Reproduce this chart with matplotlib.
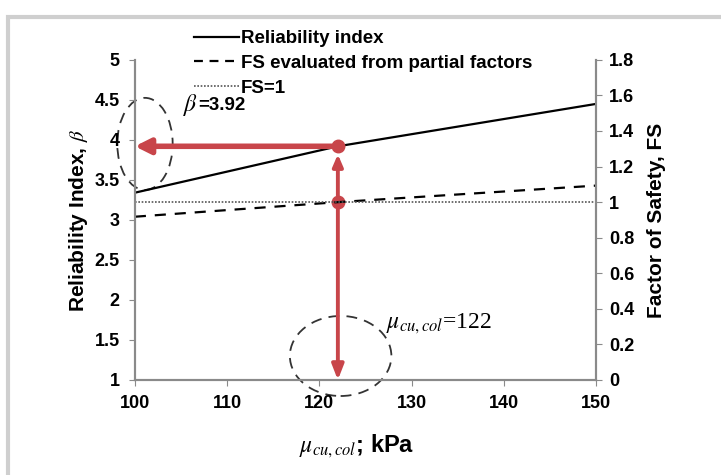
import matplotlib.pyplot as plt
from matplotlib.patches import Ellipse, Rectangle
from matplotlib.lines import Line2D

plt.rcParams['font.family'] = ['Liberation Sans', 'DejaVu Sans']
plt.rcParams['mathtext.fontset'] = 'stix'

# mean undrained strength of the column (kPa)
mu_cu = [100, 122, 150]
beta = [3.34, 3.92, 4.45]          # reliability index
fs_partial = [0.918, 1.0, 1.093]   # FS evaluated from partial factors
fs_limit = 1.0

mu_design = 122
beta_design = 3.92

red = '#c8454a'
grey = '#8a8a8a'

fig = plt.figure(figsize=(7.21, 4.75), dpi=100)
fig.patches.append(Rectangle((0.011, -0.01), 1.0, 0.975, transform=fig.transFigure,
                             fill=False, edgecolor='#cfcfcf', linewidth=3))

ax = fig.add_axes([0.187, 0.2, 0.64, 0.674])
ax2 = ax.twinx()

ax.plot(mu_cu, beta, color='black', lw=1.6)
ax2.plot(mu_cu, fs_partial, color='black', lw=1.6, dashes=(5, 4))
ax2.axhline(fs_limit, color='#555555', lw=1.2, ls=(0, (1, 1)))

ax.set_xlim(100, 150)
ax.set_ylim(1, 5)
ax2.set_ylim(0, 1.8)
ax.set_xticks(range(100, 151, 10))
ax.set_yticks([1, 1.5, 2, 2.5, 3, 3.5, 4, 4.5, 5])
ax.set_yticklabels(['1', '1.5', '2', '2.5', '3', '3.5', '4', '4.5', '5'])
fs_ticks = [0, 0.2, 0.4, 0.6, 0.8, 1, 1.2, 1.4, 1.6, 1.8]
ax2.set_yticks(fs_ticks)
ax2.set_yticklabels(['0', '0.2', '0.4', '0.6', '0.8', '1', '1.2', '1.4', '1.6', '1.8'])

for a in (ax, ax2):
    a.spines['top'].set_visible(False)
    for s in ('left', 'right', 'bottom'):
        a.spines[s].set_color(grey)
        a.spines[s].set_linewidth(1.5)
    a.tick_params(direction='out', length=4, color=grey, labelsize=13, pad=7)
    for lab in a.get_xticklabels() + a.get_yticklabels():
        lab.set_fontweight('bold')
ax2.tick_params(pad=5)

ax.set_ylabel(r'Reliability Index, $\beta$', fontsize=15, fontweight='bold')
ax2.set_ylabel('Factor of Safety, FS', fontsize=15, fontweight='bold')
ax.set_xlabel(r'$\mu_{cu,col}$; kPa', fontsize=17, fontweight='bold')
ax.yaxis.set_label_coords(-0.098, 0.5)
ax2.yaxis.set_label_coords(1.11, 0.5)
ax.xaxis.set_label_coords(0.48, -0.163)

fs_at_design = 1 + fs_limit / 1.8 * 4
ax.annotate('', xy=(100, beta_design), xytext=(mu_design, beta_design),
            arrowprops=dict(arrowstyle='-|>,head_length=0.9,head_width=0.45', color=red, lw=4,
                            shrinkA=0, shrinkB=0))
ax.annotate('', xy=(mu_design, 1.0), xytext=(mu_design, fs_at_design),
            arrowprops=dict(arrowstyle='-|>,head_length=0.9,head_width=0.35', color=red, lw=2.8,
                            shrinkA=0, shrinkB=0))
ax.annotate('', xy=(mu_design, beta_design - 0.1), xytext=(mu_design, fs_at_design),
            arrowprops=dict(arrowstyle='-|>,head_length=0.7,head_width=0.3', color=red, lw=2.8,
                            shrinkA=0, shrinkB=0))
ax.plot([mu_design, mu_design], [beta_design, fs_at_design], 'o', color=red, ms=9,
        clip_on=False, zorder=5)

ax.add_patch(Ellipse((101.1, 3.95), 6.0, 1.15, fill=False, ls=(0, (6, 4)), lw=1.3,
                     color='#333333', clip_on=False))
ax.add_patch(Ellipse((122.3, 1.3), 11.0, 1.0, fill=False, ls=(0, (6, 4)), lw=1.3,
                     color='#333333', clip_on=False))

ax.text(105.2, 4.43, r'$\beta$', fontsize=17, va='center')
ax.text(106.9, 4.43, '=3.92', fontsize=13.5, fontweight='bold', va='center')
ax.text(127.2, 1.7, r'$\mu_{cu,col}$=122', fontsize=17, va='center',
        family='Liberation Serif')

handles = [Line2D([], [], color='black', lw=1.6),
           Line2D([], [], color='black', lw=1.6, dashes=(4, 3)),
           Line2D([], [], color='#555555', lw=1.2, ls=(0, (1, 1)))]
labels = ['Reliability index', 'FS evaluated from partial factors', 'FS=1']
fig.legend(handles, labels, loc='upper left', bbox_to_anchor=(0.258, 0.952), frameon=False,
           prop={'weight': 'bold', 'size': 13.5}, handlelength=2.4, handletextpad=0.12,
           labelspacing=0.4, borderaxespad=0)

fig.savefig('out.png', dpi=100)
